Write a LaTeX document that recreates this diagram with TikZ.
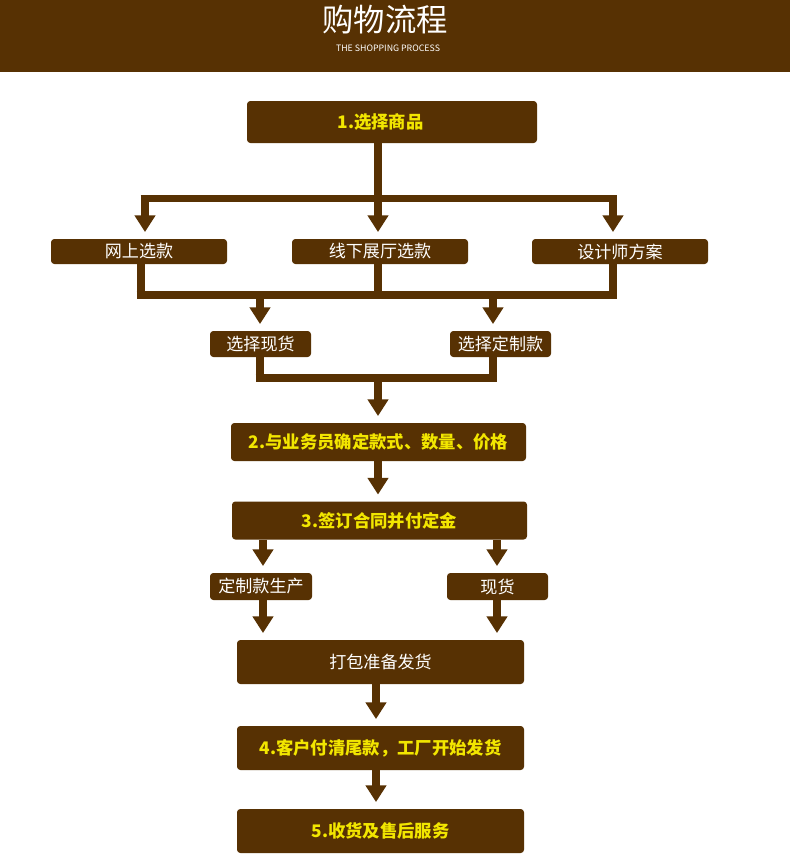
\documentclass[tikz,border=0pt]{standalone}
\usepackage{fontspec}
\usetikzlibrary{arrows.meta,calc}
\newfontfamily\cjk{Noto Sans CJK SC}
\definecolor{brn}{HTML}{573103}
\definecolor{ylw}{HTML}{F2E600}
\begin{document}
\begin{tikzpicture}[x=0.75pt,y=-0.75pt,
  stepbox/.style={fill=brn,rounded corners=2.5pt,inner sep=0pt,text=ylw,font=\cjk\bfseries\fontsize{13}{15}\selectfont},
  subbox/.style={fill=brn,rounded corners=2.5pt,inner sep=0pt,text=white,font=\cjk\fontsize{12.8}{14}\selectfont},
  barline/.style={draw=brn,line width=5.4pt,shorten <=-3.35pt,shorten >=-3.35pt},
  stemline/.style={draw=brn,line width=6.7pt},
  flowarr/.style={draw=brn,line width=6.7pt,-{Triangle[width=15pt,length=12.5pt]},shorten >=5pt}]
\useasboundingbox (0,0) rectangle (790,867);
\fill[white] (0,0) rectangle (790,867);
\fill[brn] (0,0) rectangle (790,72);
\node[text=white,font=\cjk\fontsize{23.5}{26}\selectfont] (title) at (385,20) {购物流程};
\node[text=white,font=\cjk\fontsize{6.6}{8}\selectfont] (sub) at (388,48) {THE SHOPPING PROCESS};
% boxes
\node[stepbox,minimum width=290*0.75pt,minimum height=42*0.75pt,
  label={[text=ylw,font=\cjk\bfseries\fontsize{13}{15}\selectfont,xshift=-8.5pt]center:1.选择商品}] (b1) at (392,122) {};
\node[subbox,minimum width=176*0.75pt,minimum height=25*0.75pt] (n1) at (139,251.5) {网上选款};
\node[subbox,minimum width=176*0.75pt,minimum height=25*0.75pt] (n2) at (380,251.5) {线下展厅选款};
\node[subbox,minimum width=176*0.75pt,minimum height=25*0.75pt] (n3) at (620,251.5) {设计师方案};
\node[subbox,minimum width=101*0.75pt,minimum height=26*0.75pt] (s1) at (260.5,344) {选择现货};
\node[subbox,minimum width=101*0.75pt,minimum height=26*0.75pt] (s2) at (500.5,344) {选择定制款};
\node[stepbox,minimum width=295*0.75pt,minimum height=38*0.75pt] (b2) at (378.5,442) {2.与业务员确定款式、数量、价格};
\node[stepbox,minimum width=295*0.75pt,minimum height=38*0.75pt] (b3) at (379.5,520.5) {3.签订合同并付定金};
\node[subbox,minimum width=102*0.75pt,minimum height=27*0.75pt] (c1) at (261,586.5) {定制款生产};
\node[subbox,minimum width=101*0.75pt,minimum height=27*0.75pt] (c2) at (497.5,586.5) {现货};
\node[subbox,minimum width=287*0.75pt,minimum height=44*0.75pt] (pk) at (380.5,662) {打包准备发货};
\node[stepbox,minimum width=287*0.75pt,minimum height=44*0.75pt] (b4) at (380.5,748) {4.客户付清尾款，工厂开始发货};
\node[stepbox,minimum width=287*0.75pt,minimum height=44*0.75pt] (b5) at (380.5,831) {5.收货及售后服务};
% junction coordinates
\coordinate (j1) at (378,198.5);
\coordinate (j1l) at (145,198.5);
\coordinate (j1r) at (613,198.5);
\coordinate (j2) at (378,295);
\coordinate (j2l) at (141,295);
\coordinate (j2r) at (613,295);
\coordinate (j2a) at (260,295);
\coordinate (j2b) at (493,295);
\coordinate (j3) at (378,378);
\coordinate (j3l) at (260,378);
\coordinate (j3r) at (493,378);
\coordinate (k1) at (263,540);
\coordinate (k2) at (497,540);
% first fan-out
\draw[stemline] (b1.south -| j1) -- (j1);
\draw[barline] (j1l) -- (j1r);
\draw[flowarr] (j1l) -- (j1l |- n1.north);
\draw[flowarr] (j1) -- (j1 |- n2.north);
\draw[flowarr] (j1r) -- (j1r |- n3.north);
% merge
\draw[stemline] (n1.south -| j2l) -- (j2l);
\draw[stemline] (n2.south -| j2) -- (j2);
\draw[stemline] (n3.south -| j2r) -- (j2r);
\draw[barline] (j2l) -- (j2r);
\draw[flowarr] (j2a) -- (j2a |- s1.north);
\draw[flowarr] (j2b) -- (j2b |- s2.north);
% merge 2
\draw[stemline] (s1.south -| j3l) -- (j3l);
\draw[stemline] (s2.south -| j3r) -- (j3r);
\draw[barline] (j3l) -- (j3r);
\draw[flowarr] (j3) -- (j3 |- b2.north);
% step 2 -> 3
\draw[flowarr] (b2.south -| j3) -- (b3.north -| j3);
% step 3 split
\draw[flowarr] (b3.south -| k1) -- (c1.north -| k1);
\draw[flowarr] (b3.south -| k2) -- (c2.north -| k2);
\draw[flowarr] (c1.south -| k1) -- (pk.north -| k1);
\draw[flowarr] (c2.south -| k2) -- (pk.north -| k2);
% final steps
\coordinate (k3) at (376,700);
\draw[flowarr] (pk.south -| k3) -- (b4.north -| k3);
\draw[flowarr] (b4.south -| k3) -- (b5.north -| k3);
\end{tikzpicture}
\end{document}
